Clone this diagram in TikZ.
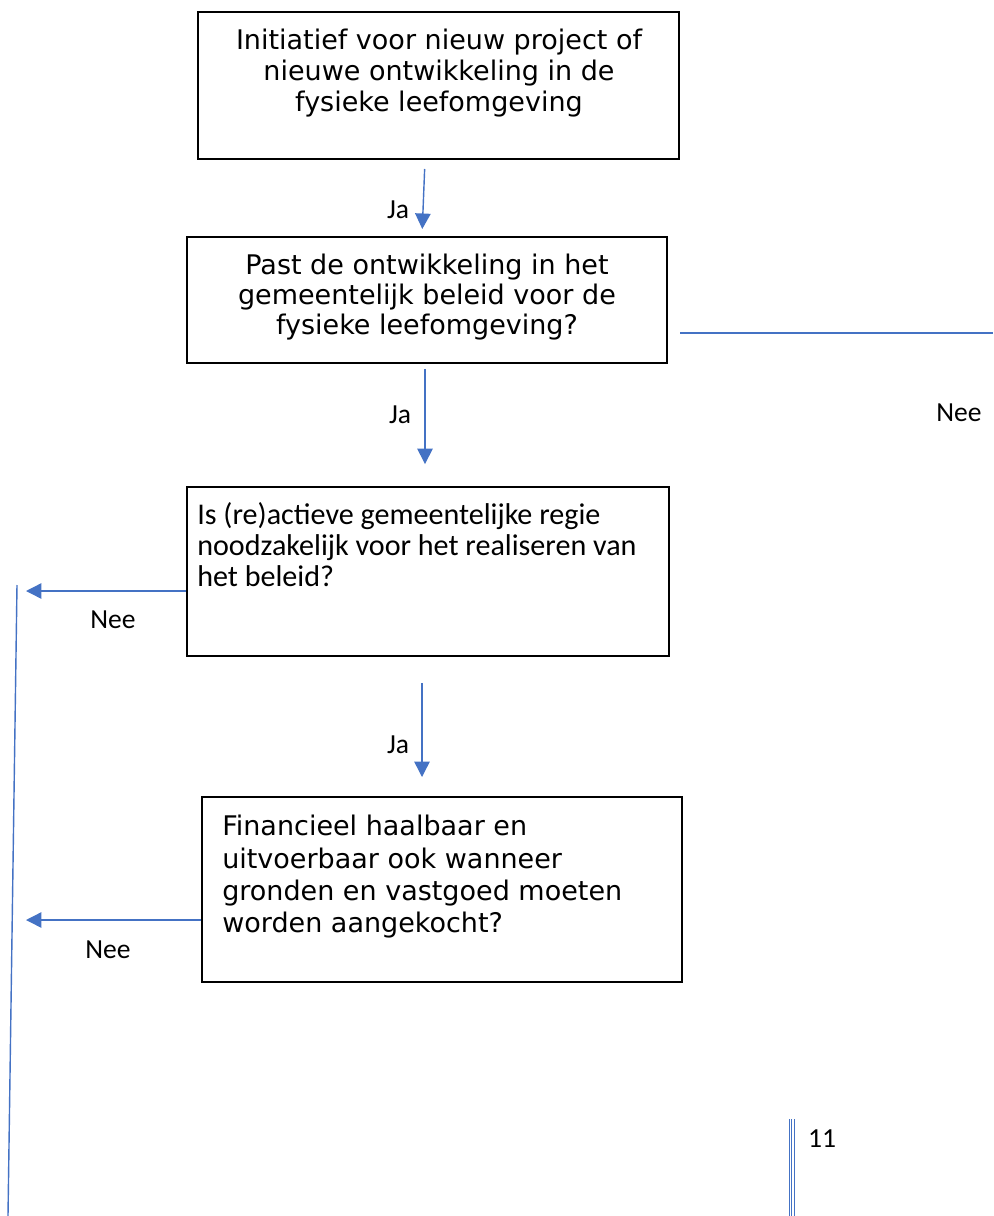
\documentclass[tikz,border=0pt]{standalone}
\usepackage{fontspec}
\setmainfont{DejaVu Sans}
\newfontfamily\calibri{Carlito}
\usetikzlibrary{arrows.meta}

\definecolor{officeblue}{RGB}{68,114,196}

\tikzset{
  box/.style={draw, line width=1.4pt, inner sep=0pt},
  boxtxt/.style={font=\fontsize{19.2}{21.4}\selectfont, align=center, inner sep=0pt},
  boxtxtl/.style={font=\calibri\fontsize{21.4}{22}\selectfont, align=left, inner sep=0pt},
  flow/.style={officeblue, line width=1pt, -{Triangle[width=11pt,length=11pt]}},
  link/.style={officeblue, line width=1pt},
  lbl/.style={font=\calibri\fontsize{19.6}{22}\selectfont, inner sep=0pt}
}

\begin{document}
\begin{tikzpicture}[x=0.025cm, y=-0.025cm]

    \useasboundingbox (0,0) rectangle (993,1216);

    %% Boxes
    \node[box, minimum width=12.025cm, minimum height=3.675cm] (init) at (438.5,85.5) {};
    \node[boxtxt, font=\fontsize{19.2}{22}\selectfont] (initTxt) at (439,73) {Initiatief voor nieuw project of\\nieuwe ontwikkeling in de\\fysieke leefomgeving};

    \node[box, minimum width=12cm, minimum height=3.15cm] (beleid) at (427,300) {};
    \node[boxtxt] (beleidTxt) at (427,297) {Past de ontwikkeling in het\\gemeentelijk beleid voor de\\fysieke leefomgeving?};

    \node[box, minimum width=12.05cm, minimum height=4.225cm] (regie) at (428,571.5) {};
    \node[boxtxtl, anchor=west] (regieTxt) at (197,545) {Is (re)actieve gemeentelijke regie\\noodzakelijk voor het realiseren van\\het beleid?};

    \node[box, minimum width=12cm, minimum height=4.625cm] (fin) at (442,889.5) {};
    \node[boxtxt, align=left, anchor=west, font=\fontsize{19.2}{23}\selectfont] (finTxt) at (222,877) {Financieel haalbaar en\\uitvoerbaar ook wanneer\\gronden en vastgoed moeten\\worden aangekocht?};

    %% Ja arrows
    \draw[flow, shorten <=6.4pt, shorten >=5pt] (init.south -| 425,0) -- (beleid.north -| 422,0);
    \node[lbl] (ja1) at (398,210) {Ja};
    \draw[flow, shorten <=3.5pt, shorten >=15.6pt] (beleid.south -| 425,0) -- (regie.north -| 425,0);
    \node[lbl] (ja2) at (400,415) {Ja};
    \draw[flow, shorten <=18.4pt, shorten >=13.5pt] (regie.south -| 422,0) -- (fin.north -| 422,0);
    \node[lbl] (ja3) at (398,745) {Ja};

    %% Nee branches
    \coordinate (neeRight) at (993,333);
    \draw[link, shorten <=8.5pt] (beleid.east |- neeRight) -- (neeRight);
    \node[lbl] (nee1) at (959,413) {Nee};

    \coordinate (neeLeftA) at (26,591);
    \draw[flow] (regie.west |- neeLeftA) -- (neeLeftA);
    \node[lbl] (nee2) at (113,620) {Nee};

    \coordinate (neeLeftB) at (26,920);
    \draw[flow] (fin.west |- neeLeftB) -- (neeLeftB);
    \node[lbl] (nee3) at (108,950) {Nee};

    % Left line
    \coordinate (leftTop) at (17,585);
    \coordinate (leftBot) at (8,1216);
    \draw[link] (leftTop) -- (leftBot);

    %% Page number
    \foreach \x in {789,791.8,794.6}
        \draw[officeblue, line width=0.6pt] (\x,1119) -- (\x,1216);
    \node[lbl] (pageNo) at (822,1139) {11};

\end{tikzpicture}
\end{document}
